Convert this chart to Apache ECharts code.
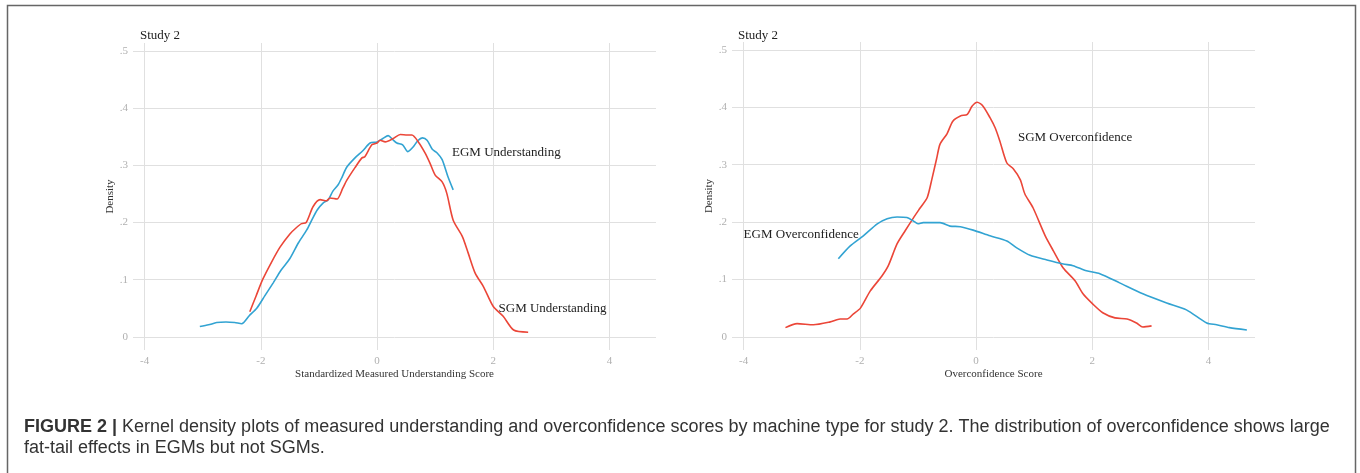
<!DOCTYPE html>
<html>
<head>
    <meta charset="UTF-8"/>
    <title>Figure 2</title>
    <style>
        * { padding: 0; margin: 0; }
        body { background: #fff; }
        #chart { width: 1360px; height: 473px; }
    </style>
    <script src="https://cdn.jsdelivr.net/npm/echarts@6/dist/echarts.min.js"></script>
</head>
<body>
<div id="chart"></div>
<script>
    // values: [score, density]
    const egmUnderstanding = [
        [-3.05, 0.018], [-2.9, 0.021], [-2.76, 0.025], [-2.6, 0.026], [-2.45, 0.025], [-2.33, 0.023],
        [-2.2, 0.037], [-2.07, 0.05], [-1.93, 0.072], [-1.79, 0.094], [-1.65, 0.117], [-1.5, 0.137],
        [-1.35, 0.165], [-1.21, 0.187], [-1.12, 0.205], [-1.03, 0.222], [-0.93, 0.234], [-0.84, 0.24],
        [-0.76, 0.255], [-0.67, 0.266], [-0.6, 0.28], [-0.52, 0.297], [-0.38, 0.313], [-0.25, 0.325],
        [-0.12, 0.339], [0, 0.341], [0.1, 0.347], [0.19, 0.352], [0.27, 0.345], [0.34, 0.339],
        [0.44, 0.336], [0.53, 0.324], [0.62, 0.332], [0.7, 0.343], [0.78, 0.348], [0.86, 0.344],
        [0.95, 0.328], [1.03, 0.322], [1.12, 0.31], [1.22, 0.28], [1.31, 0.257]
    ]
    const sgmUnderstanding = [
        [-2.19, 0.044], [-2.08, 0.072], [-1.97, 0.1], [-1.82, 0.13], [-1.67, 0.157], [-1.5, 0.18],
        [-1.4, 0.19], [-1.3, 0.198], [-1.22, 0.2], [-1.1, 0.228], [-0.98, 0.24], [-0.87, 0.238],
        [-0.81, 0.243], [-0.69, 0.241], [-0.59, 0.26], [-0.52, 0.274], [-0.38, 0.296], [-0.26, 0.313],
        [-0.21, 0.315], [-0.09, 0.336], [0, 0.339], [0.05, 0.344], [0.14, 0.341], [0.28, 0.347],
        [0.4, 0.354], [0.52, 0.353], [0.6, 0.353], [0.71, 0.341], [0.83, 0.321], [0.91, 0.304],
        [1.0, 0.283], [1.12, 0.271], [1.2, 0.251], [1.31, 0.204], [1.47, 0.175], [1.57, 0.146],
        [1.69, 0.111], [1.83, 0.088], [2.0, 0.053], [2.17, 0.036], [2.35, 0.012], [2.6, 0.008]
    ]
    const sgmOverconfidence = [
        [-3.28, 0.016], [-3.08, 0.023], [-2.8, 0.021], [-2.51, 0.026], [-2.34, 0.031], [-2.22, 0.031],
        [-2.11, 0.04], [-1.99, 0.05], [-1.82, 0.08], [-1.62, 0.106], [-1.51, 0.124], [-1.36, 0.162],
        [-1.22, 0.185], [-1.08, 0.207], [-0.96, 0.225], [-0.84, 0.243], [-0.76, 0.275], [-0.68, 0.31],
        [-0.62, 0.336], [-0.5, 0.354], [-0.4, 0.376], [-0.27, 0.385], [-0.15, 0.388], [-0.07, 0.402],
        [0.02, 0.409], [0.12, 0.402], [0.24, 0.382], [0.33, 0.364], [0.41, 0.341], [0.53, 0.303],
        [0.64, 0.293], [0.76, 0.274], [0.84, 0.249], [0.98, 0.225], [1.19, 0.176], [1.33, 0.15],
        [1.5, 0.12], [1.7, 0.098], [1.84, 0.075], [2.01, 0.057], [2.18, 0.042], [2.39, 0.033],
        [2.6, 0.031], [2.76, 0.024], [2.87, 0.017], [3.02, 0.019]
    ]
    const egmOverconfidence = [
        [-2.37, 0.136], [-2.17, 0.158], [-1.94, 0.176], [-1.7, 0.197], [-1.53, 0.206], [-1.36, 0.209],
        [-1.19, 0.208], [-1.08, 0.202], [-1.0, 0.197], [-0.91, 0.199], [-0.62, 0.199], [-0.45, 0.193],
        [-0.27, 0.192], [-0.05, 0.186], [0.24, 0.176], [0.53, 0.167], [0.7, 0.155], [0.93, 0.142],
        [1.22, 0.134], [1.5, 0.127], [1.67, 0.124], [1.9, 0.115], [2.13, 0.11], [2.47, 0.094],
        [2.87, 0.075], [3.28, 0.059], [3.62, 0.047], [3.97, 0.024], [4.14, 0.021], [4.36, 0.016],
        [4.66, 0.012]
    ]

    const xTicks = [-4, -2, 0, 2, 4]
    const yTicks = [0, 0.1, 0.2, 0.3, 0.4, 0.5]
    const xTitles = ['Standardized Measured Understanding Score', 'Overconfidence Score']
    // label anchors [x, y] in data units
    const labelsLeft = [['EGM Understanding', 1.29, 0.322], ['SGM Understanding', 2.09, 0.049]]
    const labelsRight = [['SGM Overconfidence', 0.72, 0.348], ['EGM Overconfidence', -4.0, 0.179]]

    const caption1 = 'Kernel density plots of measured understanding and overconfidence scores by machine type for study 2. The distribution of overconfidence shows large'
    const caption2 = 'fat-tail effects in EGMs but not SGMs.'

    const RED = '#EB4638'
    const BLUE = '#32A3D2'
    const SERIF = 'Liberation Serif, Times New Roman, serif'
    const SANS = 'Liberation Sans, Arial, sans-serif'

    const chart = echarts.init(document.getElementById('chart'))

    function gridLines() {
        return {
            silent: true,
            symbol: ['none', 'none'],
            z: 1,
            animation: false,
            label: {show: false},
            lineStyle: {color: '#e0e0e0', type: 'solid', width: 1},
            emphasis: {disabled: true},
            data: xTicks.map(v => ({xAxis: v})).concat(yTicks.map(v => ({yAxis: v})))
        }
    }

    function notes(list) {
        return {
            symbol: 'circle',
            symbolSize: 0,
            silent: true,
            animation: false,
            label: {
                show: true,
                position: 'right',
                distance: 0,
                color: '#222',
                fontFamily: SERIF,
                fontSize: 13,
                formatter: p => p.name
            },
            data: list.map(d => ({name: d[0], coord: [d[1], d[2]]}))
        }
    }

    function xAxis(i) {
        return {
            type: 'value', gridIndex: i, min: -4.2, max: 4.8,
            name: xTitles[i], nameLocation: 'middle', nameGap: 19, nameMoveOverlap: false,
            nameTextStyle: {fontFamily: SERIF, fontSize: 11, color: '#333'},
            axisLine: {show: false}, axisTick: {show: false}, splitLine: {show: false},
            axisLabel: {customValues: xTicks, color: '#b0b0b0', fontFamily: SERIF, fontSize: 11, margin: 6}
        }
    }

    function yAxis(i) {
        return {
            type: 'value', gridIndex: i, min: -0.023, max: 0.514,
            name: 'Density', nameLocation: 'middle', nameGap: 17,
            nameTextStyle: {fontFamily: SERIF, fontSize: 11, color: '#333'},
            axisLine: {show: false}, axisTick: {show: false}, splitLine: {show: false},
            axisLabel: {
                customValues: yTicks, color: '#b0b0b0', fontFamily: SERIF, fontSize: 11, margin: 5,
                formatter: v => v === 0 ? '0' : v.toFixed(1).replace(/^0/, '')
            }
        }
    }

    function line(name, data, color, i, extra) {
        return Object.assign({
            name, type: 'line', data, xAxisIndex: i, yAxisIndex: i,
            symbol: 'none', smooth: 0.25, z: 3, animation: false,
            lineStyle: {color, width: 1.6}
        }, extra || {})
    }

    chart.setOption({
        animation: false,
        title: [
            {text: 'Study 2', left: 135, top: 24, textStyle: {fontFamily: SERIF, fontSize: 13, fontWeight: 'normal', color: '#222'}},
            {text: 'Study 2', left: 733, top: 24, textStyle: {fontFamily: SERIF, fontSize: 13, fontWeight: 'normal', color: '#222'}}
        ],
        grid: [
            {left: 133, top: 43, width: 523, height: 307},
            {left: 732, top: 42, width: 523, height: 308}
        ],
        xAxis: [xAxis(0), xAxis(1)],
        yAxis: [yAxis(0), yAxis(1)],
        series: [
            line('EGM Understanding', egmUnderstanding, BLUE, 0, {markLine: gridLines(), markPoint: notes(labelsLeft)}),
            line('SGM Understanding', sgmUnderstanding, RED, 0),
            line('SGM Overconfidence', sgmOverconfidence, RED, 1, {markLine: gridLines(), markPoint: notes(labelsRight)}),
            line('EGM Overconfidence', egmOverconfidence, BLUE, 1)
        ],
        graphic: [
            {
                type: 'rect', silent: true,
                shape: {x: 7.5, y: 5.5, width: 1348, height: 520},
                style: {fill: 'none', stroke: '#666', lineWidth: 1.5}
            },
            {
                type: 'text', left: 24, top: 418, silent: true,
                style: {
                    text: '{b|FIGURE 2 |} ' + caption1,
                    fontFamily: SANS, fontSize: 18, fill: '#333',
                    rich: {b: {fontWeight: 'bold', fontFamily: SANS, fontSize: 18, fill: '#333'}}
                }
            },
            {
                type: 'text', left: 24, top: 439, silent: true,
                style: {text: caption2, fontFamily: SANS, fontSize: 18, fill: '#333'}
            }
        ]
    })
</script>
</body>
</html>
